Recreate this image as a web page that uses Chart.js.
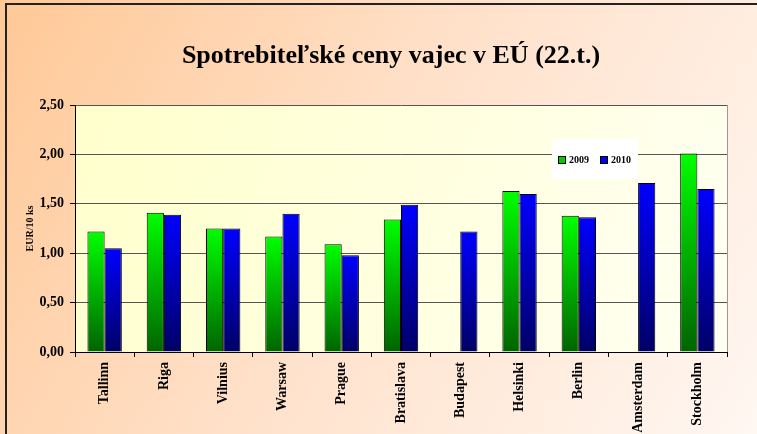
<!DOCTYPE html>
<html>
<head>
<meta charset="utf-8">
<script src="https://cdn.jsdelivr.net/npm/chart.js@4"></script>
<style>
  body { margin: 0; }
  #wrap { position: relative; width: 757px; height: 434px; }
</style>
</head>
<body>
<div id="wrap"><canvas id="eggChart"></canvas></div>
<script>
const cities = ["Tallinn", "Riga", "Vilnius", "Warsaw", "Prague", "Bratislava",
  "Budapest", "Helsinki", "Berlin", "Amsterdam", "Stockholm"];
const prices2009 = [1.22, 1.41, 1.25, 1.17, 1.09, 1.34, null, 1.63, 1.38, null, 2.01];
const prices2010 = [1.05, 1.39, 1.25, 1.40, 0.98, 1.49, 1.22, 1.60, 1.365, 1.71, 1.65];
const yTicks = [0, 0.5, 1, 1.5, 2, 2.5];
const chartTitle = "Spotrebiteľské ceny vajec v EÚ (22.t.)";

const SERIF = "'Liberation Serif', 'DejaVu Serif', serif";

// vertical gradient per bar, light at the top, dark at the base
function barGradient(light, dark) {
  return (context) => {
    const { chart, parsed } = context;
    if (!chart.chartArea || !parsed || parsed.y == null) return light;
    const yScale = chart.scales.y;
    const top = yScale.getPixelForValue(parsed.y);
    const bottom = yScale.getPixelForValue(0);
    const g = chart.ctx.createLinearGradient(0, top, 0, bottom);
    g.addColorStop(0, light);
    g.addColorStop(1, dark);
    return g;
  };
}

const backgroundPlugin = {
  id: "backgroundPlugin",
  beforeDraw(chart) {
    const { ctx, width, height, chartArea } = chart;
    ctx.save();
    const bg = ctx.createLinearGradient(0, 0, width, height);
    bg.addColorStop(0, "#ffc896");
    bg.addColorStop(0.5, "#ffe2cc");
    bg.addColorStop(1, "#fff7f2");
    ctx.fillStyle = bg;
    ctx.fillRect(0, 0, width, height);
    // frame
    ctx.strokeStyle = "#222";
    ctx.lineWidth = 2;
    ctx.beginPath();
    ctx.moveTo(6, height);
    ctx.lineTo(6, 4);
    ctx.lineTo(width, 4);
    ctx.stroke();
    // plot area
    const pa = ctx.createLinearGradient(chartArea.left, chartArea.top, chartArea.right, chartArea.bottom);
    pa.addColorStop(0, "#ffffcc");
    pa.addColorStop(1, "#fffff2");
    ctx.fillStyle = pa;
    ctx.fillRect(chartArea.left, chartArea.top, chartArea.right - chartArea.left, chartArea.bottom - chartArea.top);
    ctx.strokeStyle = "#999";
    ctx.lineWidth = 1;
    ctx.beginPath();
    ctx.moveTo(chartArea.right + 0.5, chartArea.top);
    ctx.lineTo(chartArea.right + 0.5, chartArea.bottom);
    ctx.stroke();
    // title
    ctx.fillStyle = "#000";
    ctx.font = "bold 26px " + SERIF;
    ctx.textAlign = "center";
    ctx.textBaseline = "middle";
    ctx.fillText(chartTitle, 391, 56);
    ctx.restore();
  }
};

const legendPlugin = {
  id: "legendPlugin",
  afterDraw(chart) {
    const ctx = chart.ctx;
    const colors = ["#00cc00", "#0000ee"];
    ctx.save();
    ctx.fillStyle = "#ffffff";
    ctx.fillRect(552, 139, 86, 40);
    ctx.font = "bold 10px " + SERIF;
    ctx.textBaseline = "middle";
    let x = 558;
    chart.data.datasets.forEach((ds, i) => {
      ctx.fillStyle = colors[i];
      ctx.fillRect(x, 156, 8, 8);
      ctx.strokeStyle = "#000";
      ctx.lineWidth = 1;
      ctx.strokeRect(x + 0.5, 156.5, 7, 7);
      ctx.fillStyle = "#000";
      ctx.fillText(ds.label, x + 11, 160.5);
      x += 42;
    });
    ctx.restore();
  }
};

new Chart(document.getElementById("eggChart"), {
  type: "bar",
  data: {
    labels: cities,
    datasets: [
      {
        label: "2009",
        data: prices2009,
        backgroundColor: barGradient("#00ff00", "#006400"),
        borderColor: "#000",
        borderWidth: 1,
        borderSkipped: "bottom",
      },
      {
        label: "2010",
        data: prices2010,
        backgroundColor: barGradient("#0000ff", "#000066"),
        borderColor: "#000",
        borderWidth: 1,
        borderSkipped: "bottom",
      },
    ],
  },
  options: {
    responsive: true,
    maintainAspectRatio: false,
    animation: false,
    layout: { padding: { top: 105, right: 30, bottom: 0, left: 0 } },
    datasets: { bar: { categoryPercentage: 0.58, barPercentage: 1 } },
    plugins: {
      legend: { display: false },
      tooltip: { enabled: false },
      title: { display: false },
    },
    scales: {
      y: {
        min: 0,
        max: 2.5,
        afterBuildTicks(scale) {
          scale.ticks = yTicks.map((v) => ({ value: v }));
        },
        afterFit(scale) {
          scale.width = 75;
        },
        ticks: {
          color: "#000",
          padding: 6,
          font: { family: SERIF, size: 14, weight: "bold" },
          callback: (v) => v.toFixed(2).replace(".", ","),
        },
        grid: { color: "#555", tickColor: "#000", tickLength: 5 },
        border: { color: "#000", width: 1 },
        title: {
          display: true,
          text: "EUR/10 ks",
          color: "#000",
          font: { family: SERIF, size: 10, weight: "bold" },
          padding: { top: 24, bottom: 0 },
        },
      },
      x: {
        afterFit(scale) {
          scale.height = 82;
        },
        ticks: {
          color: "#000",
          minRotation: 90,
          maxRotation: 90,
          padding: 5,
          autoSkip: false,
          font: { family: SERIF, size: 14, weight: "bold" },
        },
        grid: { drawOnChartArea: false, color: "#000", tickLength: 5 },
        border: { color: "#000", width: 1 },
      },
    },
  },
  plugins: [backgroundPlugin, legendPlugin],
});
</script>
</body>
</html>
